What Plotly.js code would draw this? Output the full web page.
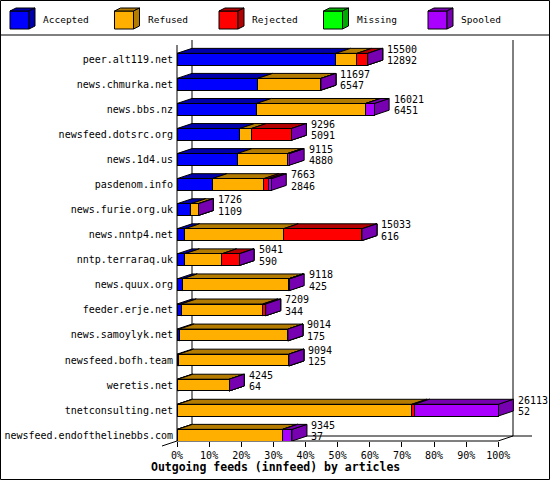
<!DOCTYPE html>
<html>
<head>
<meta charset="utf-8">
<script src="https://cdn.plot.ly/plotly-3.0.1.min.js"></script>
<style>
  html, body { margin: 0; padding: 0; background: #fff; }
  #chart { width: 550px; height: 480px; }
</style>
</head>
<body>
<div id="chart"></div>
<script>
    // --- DATA ---
    const hosts = ['peer.alt119.net', 'news.chmurka.net', 'news.bbs.nz', 'newsfeed.dotsrc.org',
        'news.1d4.us', 'pasdenom.info', 'news.furie.org.uk', 'news.nntp4.net', 'nntp.terraraq.uk',
        'news.quux.org', 'feeder.erje.net', 'news.samoylyk.net', 'newsfeed.bofh.team',
        'weretis.net', 'tnetconsulting.net', 'newsfeed.endofthelinebbs.com'];
    const offered  = [15500, 11697, 16021, 9296, 9115, 7663, 1726, 15033, 5041, 9118, 7209, 9014, 9094, 4245, 26113, 9345];
    const accepted = [12892, 6547, 6451, 5091, 4880, 2846, 1109, 616, 590, 425, 344, 175, 125, 64, 52, 37];
    const refused  = [1720, 5150, 8890, 940, 4100, 4200, 617, 8015, 3030, 8610, 6620, 8839, 8969, 4181, 19030, 8545];
    const rejected = [888, 0, 0, 3265, 0, 390, 0, 6402, 1421, 0, 245, 0, 0, 0, 210, 0];
    const missing  = [0, 0, 0, 0, 0, 0, 0, 0, 0, 0, 0, 0, 0, 0, 0, 0];
    const spooled  = [0, 0, 680, 0, 135, 227, 0, 0, 0, 83, 0, 0, 0, 0, 6821, 763];
    const xTicks = [0, 10, 20, 30, 40, 50, 60, 70, 80, 90, 100];

    const seriesNames = ['Accepted', 'Refused', 'Rejected', 'Missing', 'Spooled'];
    const seriesData = [accepted, refused, rejected, missing, spooled];

    // --- COLOURS (front face / shaded top+side) ---
    const front = ['#0000FF', '#FFAF00', '#FF0000', '#00FF00', '#AA00FF'];
    const shade = ['#0000AA', '#B37B00', '#B30000', '#00AA00', '#7700B0'];

    // --- GEOMETRY ---
    const W = 550, H = 480, L = 177, R = 5, T = 37, B = 39;
    const plotW = W - L - R, plotH = H - T - B;
    const pxPerPct = 3.213;
    const xMax = plotW / pxPerPct;
    const yRange = [15.231, -0.886];
    const pxPerCat = plotH / (yRange[0] - yRange[1]);
    const depthX = 15 / pxPerPct;      // 3D depth in % units
    const depthY = 5 / pxPerCat;       // 3D depth in category units
    const barW = 0.467;
    const font = 'DejaVu Sans Mono';
    const px2x = px => (px - L) / plotW;
    const py2y = py => (H - B - py) / plotH;

    const maxOffered = Math.max(...offered);
    const pct = v => v / maxOffered * 100;
    const idx = hosts.map((h, i) => i);

    // front faces: stacked horizontal bars
    const traces = seriesData.map((vals, k) => ({
        type: 'bar',
        orientation: 'h',
        name: seriesNames[k],
        y: idx,
        x: vals.map(pct),
        width: barW,
        marker: { color: front[k], line: { color: '#000', width: 1 } },
        hoverinfo: 'skip',
        showlegend: false
    }));

    const shapes = [];
    const line = { color: '#000', width: 1 };
    const paperPath = pts => 'M' + pts.map(p => px2x(p[0]) + ',' + py2y(p[1])).join(' L') + ' Z';

    // --- FRAME / AXES (pixel based) ---
    shapes.push({ type: 'line', xref: 'paper', yref: 'paper', layer: 'below', line,
        x0: px2x(192), y0: py2y(40), x1: px2x(192), y1: py2y(436) });
    shapes.push({ type: 'line', xref: 'paper', yref: 'paper', layer: 'below', line,
        x0: px2x(513), y0: py2y(40), x1: px2x(513), y1: py2y(436) });
    shapes.push({ type: 'line', xref: 'paper', yref: 'paper', layer: 'below', line,
        x0: px2x(192), y0: py2y(436), x1: px2x(532), y1: py2y(436) });
    shapes.push({ type: 'line', xref: 'paper', yref: 'paper', layer: 'below', line,
        x0: px2x(498), y0: py2y(441), x1: px2x(513), y1: py2y(436) });
    shapes.push({ type: 'line', xref: 'paper', yref: 'paper', layer: 'below', line,
        x0: px2x(162), y0: py2y(446), x1: px2x(177), y1: py2y(441) });
    shapes.push({ type: 'line', xref: 'paper', yref: 'paper', layer: 'below', line,
        x0: px2x(177), y0: py2y(441), x1: px2x(498), y1: py2y(441) });
    shapes.push({ type: 'line', xref: 'paper', yref: 'paper', layer: 'below', line,
        x0: px2x(177), y0: py2y(45), x1: px2x(177), y1: py2y(441) });
    // outer border and legend separator
    shapes.push({ type: 'rect', xref: 'paper', yref: 'paper', layer: 'above', line,
        x0: px2x(0.5), y0: py2y(0.5), x1: px2x(549.5), y1: py2y(479.5) });
    shapes.push({ type: 'line', xref: 'paper', yref: 'paper', layer: 'above', line,
        x0: px2x(0), y0: py2y(35), x1: px2x(550), y1: py2y(35) });

    // --- 3D TOP / SIDE FACES (from the data) ---
    idx.forEach(i => {
        const top = i - barW / 2, bot = i + barW / 2;
        let a = 0;
        seriesData.forEach((vals, k) => {
            const b = a + pct(vals[i]);
            shapes.push({ type: 'path', xref: 'x', yref: 'y', layer: 'below',
                fillcolor: shade[k], line,
                path: `M${b},${top} L${b + depthX},${top - depthY} L${b + depthX},${bot - depthY} L${b},${bot} Z` });
            if (b > a) {
                shapes.push({ type: 'path', xref: 'x', yref: 'y', layer: 'below',
                    fillcolor: shade[k], line,
                    path: `M${a},${top} L${b},${top} L${b + depthX},${top - depthY} L${a + depthX},${top - depthY} Z` });
            }
            a = b;
        });
    });

    // --- LEGEND (3D cubes) ---
    const annotations = [];
    seriesNames.forEach((name, k) => {
        const x0 = 10 + k * 104.5;
        shapes.push({ type: 'path', xref: 'paper', yref: 'paper', fillcolor: front[k], line,
            path: paperPath([[x0, 11], [x0 + 19, 11], [x0 + 19, 29], [x0, 29]]) });
        shapes.push({ type: 'path', xref: 'paper', yref: 'paper', fillcolor: shade[k], line,
            path: paperPath([[x0, 11], [x0 + 19, 11], [x0 + 25, 8], [x0 + 6, 8]]) });
        shapes.push({ type: 'path', xref: 'paper', yref: 'paper', fillcolor: shade[k], line,
            path: paperPath([[x0 + 19, 11], [x0 + 25, 8], [x0 + 25, 26], [x0 + 19, 29]]) });
        annotations.push({ xref: 'paper', yref: 'paper', x: px2x(x0 + 32), y: py2y(20),
            xanchor: 'left', yanchor: 'middle', showarrow: false, text: name,
            borderpad: 0, font: { family: font, size: 9.5, color: '#000' } });
    });

    // --- VALUE LABELS (offered / accepted) ---
    idx.forEach(i => {
        [[offered[i], 10], [accepted[i], -1.5]].forEach(([v, dy]) => {
            annotations.push({ xref: 'x', yref: 'y', x: pct(offered[i]), y: i,
                xanchor: 'left', yanchor: 'middle', xshift: 19.5, yshift: dy,
                showarrow: false, text: String(v), borderpad: 0, borderwidth: 0,
                font: { family: font, size: 10, color: '#000' } });
        });
    });

    // --- TITLE ---
    annotations.push({ xref: 'paper', yref: 'paper', x: px2x(275), y: py2y(466.5),
        xanchor: 'center', yanchor: 'middle', showarrow: false,
        text: '<b>Outgoing feeds (innfeed) by articles</b>',
        font: { family: font, size: 11.5, color: '#000' } });

    const layout = {
        width: W, height: H,
        margin: { l: L, r: R, t: T, b: B, pad: 0 },
        paper_bgcolor: '#fff', plot_bgcolor: 'rgba(0,0,0,0)',
        barmode: 'stack',
        showlegend: false,
        font: { family: font, size: 10, color: '#000' },
        xaxis: {
            range: [0, xMax], tickvals: xTicks, ticktext: xTicks.map(t => t + '%'),
            ticks: 'outside', ticklen: 5, tickcolor: '#000', tickwidth: 1,
            showgrid: false, zeroline: false, showline: false, fixedrange: true,
            tickfont: { family: font, size: 10, color: '#000' }
        },
        yaxis: {
            range: yRange, tickvals: idx, ticktext: hosts,
            ticks: '', showgrid: false, zeroline: false, showline: false, fixedrange: true,
            ticklabelstandoff: 3,
            tickfont: { family: font, size: 10, color: '#000' }
        },
        shapes, annotations
    };

    Plotly.newPlot('chart', traces, layout, { displayModeBar: false, staticPlot: true });
</script>
</body>
</html>
